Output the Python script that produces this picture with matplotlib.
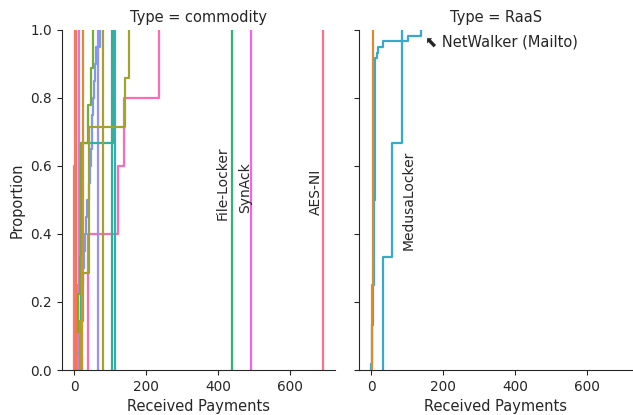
import matplotlib
matplotlib.use("Agg")
import matplotlib.pyplot as plt
import pandas as pd
import seaborn as sns
from seaborn.external import husl

# received payments per family
aes_ni = [692, 692]
fam_red = [0, 0, 0, 1, 2]
fam_orange_red = [5, 5, 6]
fam_orange = [22, 25, 25]
fam_olive_a = [80, 80]
fam_olive_b = [17, 25, 42, 42, 42, 142, 153]
fam_green = [5, 10, 15, 18, 19, 19, 39, 47, 53]
file_locker = [439]
fam_teal_green = [104]
fam_teal = [19, 19, 108]
fam_cyan = [114, 114]
fam_blue = [2, 15, 18, 20, 22, 25, 28, 30, 33, 36, 40, 45, 48, 50, 50, 52, 55, 58, 62, 72]
fam_blue_purple = [66]
fam_purple = [12, 13, 13, 13]
synack = [492]
fam_pink = [39, 39, 122, 139, 236]

raas_orange = [3, 4, 4, 5]
netwalker = [0, 1, 1, 2, 2, 3, 3, 3, 4, 4, 4, 5, 5, 5, 5, 6, 6, 6, 6,
             7, 7, 7, 7, 7, 8, 8, 8, 8, 8, 8, 9, 9, 9, 9, 9, 9,
             10, 10, 10, 10, 10, 10, 10, 11, 11, 11, 11, 11, 11, 11, 11, 11, 11, 11, 11,
             17, 19, 31, 103, 139]
medusalocker = [33, 58, 86]

# (family, type, payments, husl hue)
families = [
    ("AES-NI", "commodity", aes_ni, 3),
    ("fam_red", "commodity", fam_red, 14),
    ("fam_orange_red", "commodity", fam_orange_red, 26),
    ("raas_orange", "RaaS", raas_orange, 40),
    ("fam_orange", "commodity", fam_orange, 46),
    ("fam_olive_a", "commodity", fam_olive_a, 80),
    ("fam_olive_b", "commodity", fam_olive_b, 88),
    ("fam_green", "commodity", fam_green, 112),
    ("File-Locker", "commodity", file_locker, 145),
    ("fam_teal_green", "commodity", fam_teal_green, 165),
    ("fam_teal", "commodity", fam_teal, 180),
    ("fam_cyan", "commodity", fam_cyan, 205),
    ("NetWalker (Mailto)", "RaaS", netwalker, 222),
    ("MedusaLocker", "RaaS", medusalocker, 218),
    ("fam_blue", "commodity", fam_blue, 258),
    ("fam_blue_purple", "commodity", fam_blue_purple, 268),
    ("fam_purple", "commodity", fam_purple, 292),
    ("SynAck", "commodity", synack, 315),
    ("fam_pink", "commodity", fam_pink, 340),
]

rows = []
for name, typ, vals, _ in families:
    for v in vals:
        rows.append({"Family": name, "Type": typ, "Received Payments": v})
df = pd.DataFrame(rows)

palette = {name: husl.husl_to_rgb(h, 90, 65) for name, _, _, h in families}
hue_order = [f[0] for f in families]

sns.set_style("ticks")
plt.rcParams.update({"axes.titlesize": 10.5, "axes.labelsize": 10.5,
                     "xtick.labelsize": 9.8, "ytick.labelsize": 9.8})
fig, axes = plt.subplots(1, 2, figsize=(6.33, 4.15), dpi=100, sharex=True, sharey=True)
fig.subplots_adjust(left=0.0975, right=0.999, bottom=0.1084, top=0.928, wspace=0.087)

for ax, typ in zip(axes, ["commodity", "RaaS"]):
    sub = df[df["Type"] == typ]
    order = [h for h in hue_order if h in set(sub["Family"])]
    sns.ecdfplot(data=sub, x="Received Payments", hue="Family", hue_order=order,
                 palette=palette, legend=False, linewidth=1.6, ax=ax)
    ax.set_title(f"Type = {typ}")
    ax.set_ylim(0, 1)
    ax.set_xticks([0, 200, 400, 600])
    sns.despine(ax=ax)

axes[0].set_ylabel("Proportion")
axes[1].set_ylabel("")
axes[1].tick_params(labelleft=False)

# labels next to the outliers
axes[0].text(414, 0.549, "File-Locker", rotation=90, ha="center", va="center", fontsize=10)
axes[0].text(475, 0.535, "SynAck", rotation=90, ha="center", va="center", fontsize=10)
axes[0].text(672, 0.525, "AES-NI", rotation=90, ha="center", va="center", fontsize=10)
axes[1].text(103, 0.50, "MedusaLocker", rotation=90, ha="center", va="center", fontsize=10)
axes[1].text(150, 0.965, "⬉ NetWalker (Mailto)", ha="left", va="center", fontsize=10.5)

fig.savefig("out.png", dpi=100)
